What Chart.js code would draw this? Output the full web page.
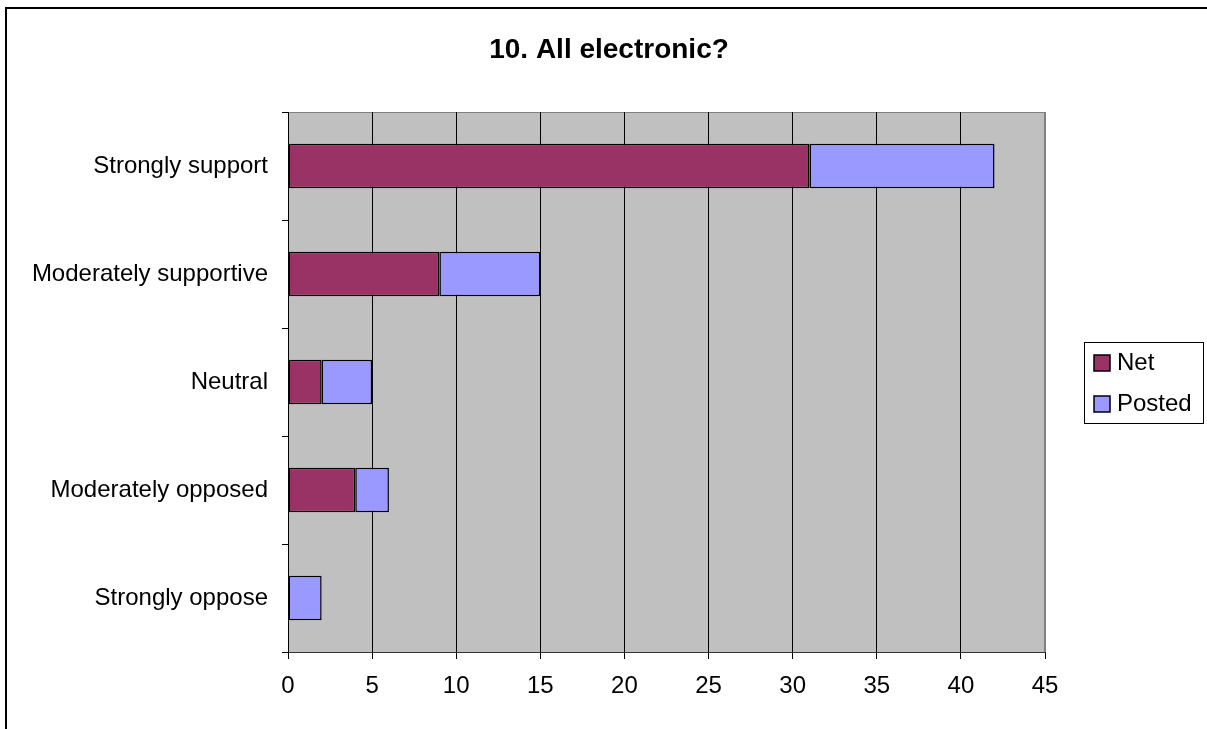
<!DOCTYPE html>
<html lang="en">
<head>
    <meta charset="UTF-8">
    <title>10. All electronic?</title>
    <script src="https://cdn.jsdelivr.net/npm/chart.js"></script>
    <style>
        body { margin: 0; background: #ffffff; }
        #grafico { display: block; }
    </style>
</head>
<body>

    <canvas id="grafico" width="1207" height="729"></canvas>

<script>

    // respostas da pergunta 10
    var respostas = ['Strongly support', 'Moderately supportive', 'Neutral', 'Moderately opposed', 'Strongly oppose'];
    var net = [31, 9, 2, 4, 0];
    var posted = [11, 6, 3, 2, 2];

    var eixoMin = 0;
    var eixoMax = 45;
    var passo = 5;

    var titulo = '10. All electronic?';

    Chart.defaults.font.family = '"Liberation Sans", Arial, sans-serif';
    Chart.defaults.color = '#000000';

    // fundo cinza, moldura, titulo e legenda
    const moldura = {
        id: 'moldura',
        beforeDraw(chart) {
            const ctx = chart.ctx;
            const a = chart.chartArea;
            ctx.save();
            ctx.fillStyle = '#ffffff';
            ctx.fillRect(0, 0, chart.width, chart.height);
            ctx.fillStyle = '#C0C0C0';
            ctx.fillRect(a.left, a.top, a.right - a.left, a.bottom - a.top);
            ctx.strokeStyle = '#808080';
            ctx.lineWidth = 1;
            ctx.strokeRect(a.left + 0.5, a.top + 0.5, a.right - a.left - 1, a.bottom - a.top);
            ctx.restore();
        },
        afterDraw(chart) {
            const ctx = chart.ctx;
            ctx.save();

            // borda externa
            ctx.strokeStyle = '#000000';
            ctx.lineWidth = 2;
            ctx.strokeRect(6, 8, chart.width + 10, chart.height + 10);

            // titulo
            ctx.fillStyle = '#000000';
            ctx.font = 'bold 28px "Liberation Sans", Arial, sans-serif';
            ctx.textAlign = 'center';
            ctx.textBaseline = 'middle';
            ctx.fillText(titulo, 609, 50);

            // legenda
            ctx.lineWidth = 1;
            ctx.strokeRect(1084.5, 342.5, 119, 81);
            ctx.font = '24px "Liberation Sans", Arial, sans-serif';
            ctx.textAlign = 'left';
            chart.data.datasets.forEach(function (ds, i) {
                var y = 363 + i * 41;
                ctx.fillStyle = ds.backgroundColor;
                ctx.fillRect(1094, y - 8, 16, 16);
                ctx.strokeStyle = '#000000';
                ctx.lineWidth = 1.5;
                ctx.strokeRect(1094, y - 8, 16, 16);
                ctx.fillStyle = '#000000';
                ctx.fillText(ds.label, 1117, y);
            });

            ctx.restore();
        }
    };

    const ctx = document.getElementById('grafico').getContext('2d');
    const grafico = new Chart(ctx, {
        type: 'bar',
        data: {
            labels: respostas,
            datasets: [{
                label: 'Net',
                data: net,
                backgroundColor: '#993366',
                borderColor: '#000000',
                borderWidth: 1.5,
                borderSkipped: false,
                barPercentage: 0.41,
                categoryPercentage: 1
            }, {
                label: 'Posted',
                data: posted,
                backgroundColor: '#9999FF',
                borderColor: '#000000',
                borderWidth: 1.5,
                borderSkipped: false,
                barPercentage: 0.41,
                categoryPercentage: 1
            }]
        },
        options: {
            indexAxis: 'y',
            responsive: false,
            animation: false,
            layout: {
                padding: { top: 112, right: 162, bottom: 0, left: 0 }
            },
            plugins: {
                legend: { display: false },
                title: { display: false },
                tooltip: { enabled: false }
            },
            scales: {
                x: {
                    stacked: true,
                    min: eixoMin,
                    max: eixoMax,
                    ticks: {
                        stepSize: passo,
                        color: '#000000',
                        font: { size: 24 },
                        padding: 13
                    },
                    grid: {
                        color: (c) => c.index === (eixoMax - eixoMin) / passo ? '#808080' : '#000000',
                        tickColor: '#000000',
                        tickLength: 7,
                        lineWidth: 1
                    },
                    border: { color: '#333333', width: 1 },
                    afterFit: (s) => { s.height = 77; }
                },
                y: {
                    stacked: true,
                    ticks: {
                        color: '#000000',
                        font: { size: 24 },
                        padding: 14
                    },
                    grid: {
                        drawOnChartArea: false,
                        offset: true,
                        color: '#000000',
                        tickLength: 6
                    },
                    border: { color: '#000000', width: 1 },
                    afterFit: (s) => { s.width = 288; }
                }
            }
        },
        plugins: [moldura]
    });

</script>
</body>
</html>
